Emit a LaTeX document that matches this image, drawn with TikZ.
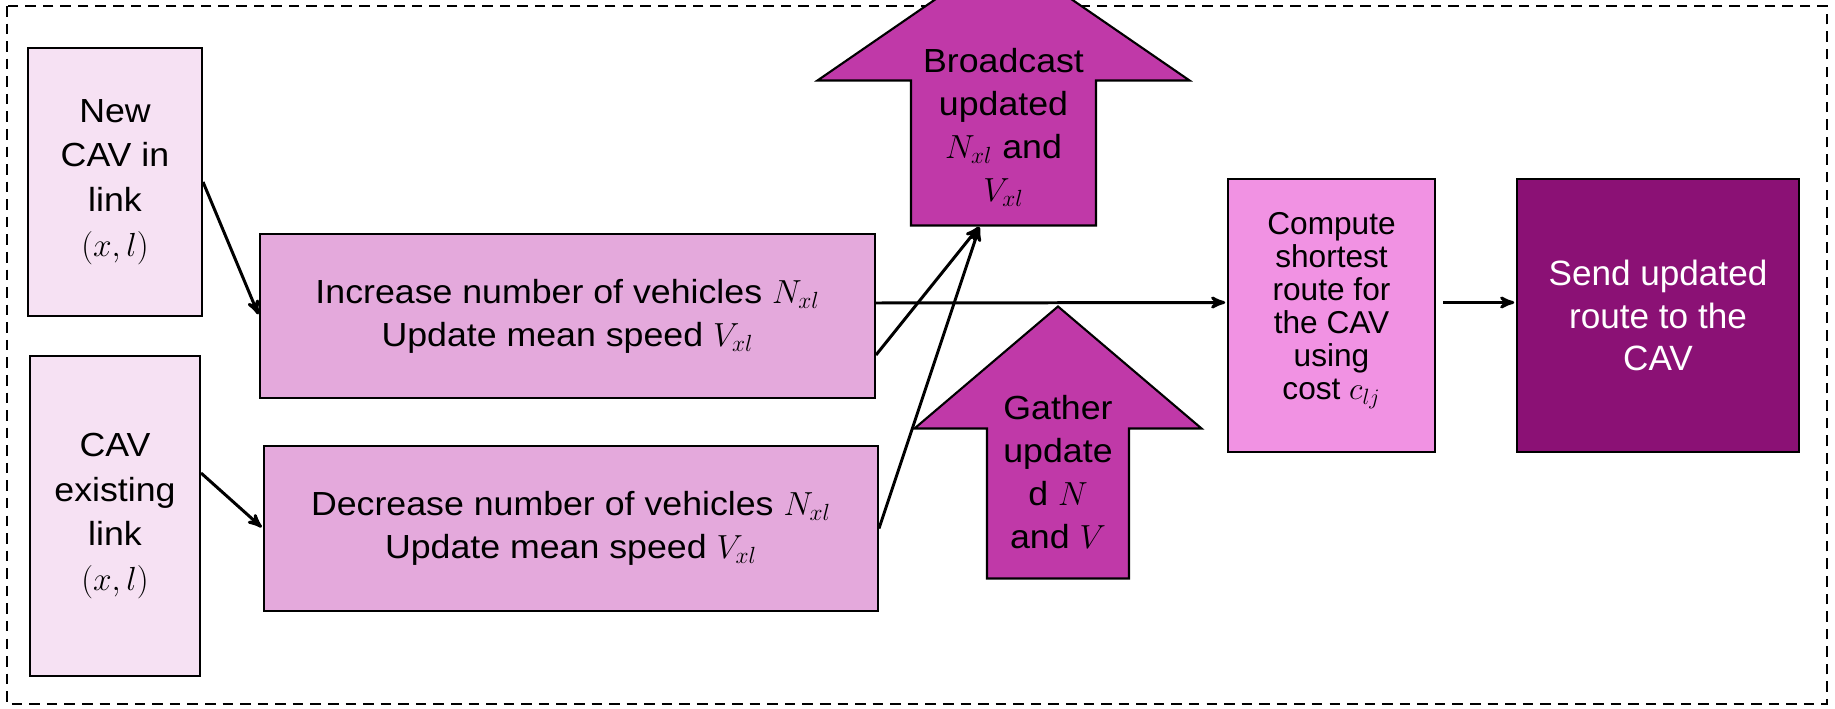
\RequirePackage{fix-cm}
\documentclass[tikz,border=0pt]{standalone}
\usepackage{amsmath}
\usepackage{fontspec}
\setmainfont[FakeStretch=1.07]{Liberation Sans}
\newfontfamily\routefont{Liberation Sans}
\usepackage{tikz}
\usetikzlibrary{arrows,calc}

\definecolor{linkpink}{RGB}{246,225,243}
\definecolor{updpink}{RGB}{228,169,220}
\definecolor{bcastmag}{RGB}{192,57,168}
\definecolor{routepink}{RGB}{241,146,227}
\definecolor{sendplum}{RGB}{139,17,117}

\begin{document}
\begin{tikzpicture}[->,>=stealth',shorten >=1pt,auto,x=0.02cm,y=-0.02cm,
                    line width=1.7pt]
  \tikzstyle{every node}=[font=\fontsize{19}{24.5}\selectfont,align=center]
  \tikzstyle{linkbox}=[rectangle,draw=black,line width=1.2pt,fill=linkpink,
                       font=\fontsize{19}{25.5}\selectfont]
  \tikzstyle{updbox}=[rectangle,draw=black,line width=1.2pt,fill=updpink]
  \tikzstyle{routebox}=[rectangle,draw=black,line width=1.2pt,fill=routepink,
                        font=\routefont\fontsize{18}{18.8}\selectfont]
  \tikzstyle{sendbox}=[rectangle,draw=black,line width=1.2pt,fill=sendplum,
                       text=white,font=\routefont\fontsize{20}{24}\selectfont]
  \tikzstyle{bigup}=[-,shorten >=0pt,draw=black,line width=1.2pt,fill=bcastmag,
                     line join=miter]
  \tikzstyle{frame}=[-,shorten >=0pt,draw=black,line width=1.1pt,
                     dash pattern=on 6pt off 4pt]

  \useasboundingbox (0,0) rectangle (1835,709);
  \clip (0,0) rectangle (1835,709);
  \fill[white] (0,0) rectangle (1835,709);

  % outer dashed frame
  \draw[frame] (7,6) rectangle (1827,704);

  % link events
  \node[linkbox,minimum width=3.48cm,minimum height=5.36cm] (newcav) at (115,182)
    {New\\CAV in\\link\\$(x,l)$};
  \node[linkbox,minimum width=3.4cm,minimum height=6.4cm] (oldcav) at (115,516)
    {CAV\\existing\\link\\$(x,l)$};

  % counters
  \node[updbox,minimum width=12.3cm,minimum height=3.28cm] (incr) at (567.5,316)
    {Increase number of vehicles $N_{xl}$\\Update mean speed $V_{xl}$};
  \node[updbox,minimum width=12.28cm,minimum height=3.3cm] (decr) at (571,528.5)
    {Decrease number of vehicles $N_{xl}$\\Update mean speed $V_{xl}$};

  % routing
  \node[routebox,minimum width=4.14cm,minimum height=5.46cm] (route) at (1331.5,315.5)
    {Compute\\shortest\\route for\\the CAV\\using\\cost $c_{lj}$\\[-8pt]};
  \node[sendbox,minimum width=5.64cm,minimum height=5.46cm] (send) at (1658,315.5)
    {Send updated\\route to the\\CAV};

  % broadcast arrow (up, runs past the frame)
  \node[minimum width=3.7cm,minimum height=3.88cm,inner sep=0pt] (bcast) at (1003.5,127) {};
  \draw[bigup] ($(bcast.south)+(-92.5,0)$) -- ++(0,-145) -- ++(-93.5,0)
    -- ($(bcast.south)+(0,-273)$) -- ($(bcast.south)+(186,-145)$) -- ++(-93.5,0)
    -- ($(bcast.south)+(92.5,0)$) -- cycle;
  \node at (bcast) {Broadcast\\updated\\$N_{xl}$ and\\$V_{xl}$};

  % gather arrow
  \node[minimum width=2.84cm,minimum height=4.2cm,inner sep=0pt] (gather) at (1058,472) {};
  \draw[bigup] ($(gather.south)+(-71,0)$) -- ++(0,-150) -- ++(-72.5,0)
    -- ($(gather.south)+(0,-272)$) -- ($(gather.south)+(143.5,-150)$) -- ++(-72.5,0)
    -- ($(gather.south)+(71,0)$) -- cycle;
  \node at (gather) {Gather\\update\\d $N$\\and $V$};

  % connectors
  \draw (newcav.east) -- (incr.west);
  \draw ([yshift=0.86cm]oldcav.east) -- (decr.west);
  \draw ([yshift=0.26cm]incr.east) -- ([yshift=0.26cm]route.west);
  \draw[shorten <=4pt] ([yshift=0.26cm]route.east) -- ([yshift=0.26cm]send.west);
  \draw ([yshift=-0.78cm]incr.east) -- ([xshift=-0.47cm]bcast.south);
  \draw (decr.east) -- ([xshift=-0.47cm]bcast.south);
\end{tikzpicture}
\end{document}
